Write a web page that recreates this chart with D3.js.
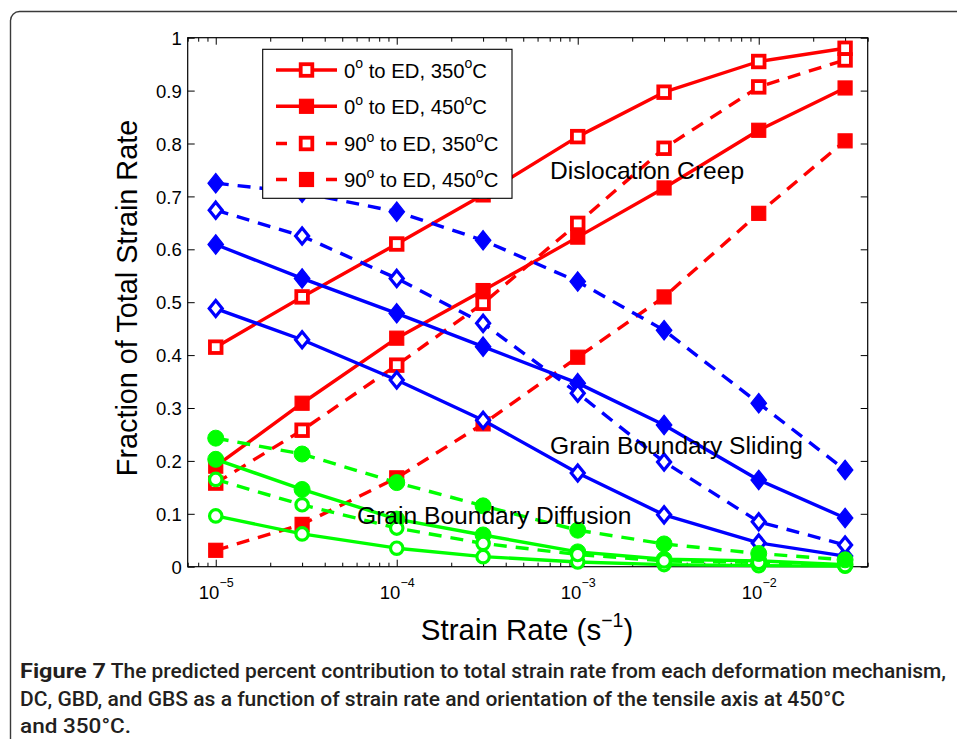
<!DOCTYPE html>
<html>
<head>
<meta charset="utf-8">
<script src="https://cdn.jsdelivr.net/npm/d3@7/dist/d3.min.js"></script>
<style>
  html, body { margin: 0; padding: 0; background: #fff; }
  svg { display: block; }
</style>
</head>
<body>
<svg id="chart" width="957" height="739"></svg>
<script>
// ---------------- DATA ----------------
const strainRates = [1e-5, 3e-5, 1e-4, 3e-4, 1e-3, 3e-3, 1e-2, 3e-2];

// Dislocation creep (red, squares)
const dc_0_350  = [0.415, 0.510, 0.610, 0.703, 0.813, 0.897, 0.955, 0.980];
const dc_0_450  = [0.190, 0.309, 0.432, 0.522, 0.623, 0.716, 0.825, 0.905];
const dc_90_350 = [0.158, 0.258, 0.381, 0.498, 0.649, 0.791, 0.907, 0.958];
const dc_90_450 = [0.031, 0.080, 0.168, 0.270, 0.396, 0.510, 0.668, 0.805];

// Grain boundary sliding (blue, diamonds)
const gbs_0_350  = [0.488, 0.429, 0.353, 0.277, 0.177, 0.098, 0.045, 0.020];
const gbs_0_450  = [0.609, 0.545, 0.479, 0.416, 0.347, 0.268, 0.164, 0.092];
const gbs_90_350 = [0.674, 0.625, 0.545, 0.460, 0.328, 0.198, 0.085, 0.041];
const gbs_90_450 = [0.725, 0.707, 0.671, 0.617, 0.539, 0.447, 0.309, 0.183];

// Grain boundary diffusion (green, circles)
const gbd_0_350  = [0.096, 0.062, 0.035, 0.019, 0.009, 0.004, 0.002, 0.001];
const gbd_0_450  = [0.203, 0.146, 0.090, 0.060, 0.028, 0.014, 0.011, 0.004];
const gbd_90_350 = [0.165, 0.117, 0.073, 0.044, 0.023, 0.011, 0.008, 0.002];
const gbd_90_450 = [0.243, 0.213, 0.159, 0.115, 0.069, 0.043, 0.025, 0.013];

const yTickValues = [0, 0.1, 0.2, 0.3, 0.4, 0.5, 0.6, 0.7, 0.8, 0.9, 1];
const xMajorTicks = [1e-5, 1e-4, 1e-3, 1e-2];
const xTickExponents = ["\u22125", "\u22124", "\u22123", "\u22122"];
const legendLabels = [
  ["0", " to ED, 350", "C"],
  ["0", " to ED, 450", "C"],
  ["90", " to ED, 350", "C"],
  ["90", " to ED, 450", "C"]
];
const annotationTexts = ["Dislocation Creep", "Grain Boundary Sliding", "Grain Boundary Diffusion"];
const captionBold = "Figure 7";
const captionLines = [
  " The predicted percent contribution to total strain rate from each deformation mechanism,",
  "DC, GBD, and GBS as a function of strain rate and orientation of the tensile axis at 450\u00B0C",
  "and 350\u00B0C."
];

// ---------------- STYLE TABLE ----------------
const RED = "#ff0000", BLUE = "#0000ff", GREEN = "#00ff00";
const series = [
  { v: dc_0_350,  c: RED,  dash: false, m: "square",  f: false },
  { v: dc_0_450,  c: RED,  dash: false, m: "square",  f: true  },
  { v: dc_90_350, c: RED,  dash: true,  m: "square",  f: false },
  { v: dc_90_450, c: RED,  dash: true,  m: "square",  f: true  },
  { v: gbs_0_350,  c: BLUE, dash: false, m: "diamond", f: false },
  { v: gbs_0_450,  c: BLUE, dash: false, m: "diamond", f: true  },
  { v: gbs_90_350, c: BLUE, dash: true,  m: "diamond", f: false },
  { v: gbs_90_450, c: BLUE, dash: true,  m: "diamond", f: true  },
  { v: gbd_0_350,  c: GREEN, dash: false, m: "circle", f: false },
  { v: gbd_0_450,  c: GREEN, dash: false, m: "circle", f: true  },
  { v: gbd_90_350, c: GREEN, dash: true,  m: "circle", f: false },
  { v: gbd_90_450, c: GREEN, dash: true,  m: "circle", f: true  }
];

// ---------------- LAYOUT ----------------
const svg = d3.select("#chart");
const FONT = "'Liberation Sans', Arial, Helvetica, sans-serif";
const L = 187.7, R = 867.7, T = 37.7, B = 566.7;

const x = d3.scaleLog().domain([7e-6, 4e-2]).range([L, R]);
const y = d3.scaleLinear().domain([0, 1]).range([B, T]);

// Outer rounded frame
svg.append("rect")
  .attr("x", 10.5).attr("y", 11.5).attr("width", 1000).attr("height", 1000)
  .attr("rx", 9).attr("fill", "none").attr("stroke", "#3a3a3a").attr("stroke-width", 1.4);

// Minor ticks for log axis
const minorTicks = [];
for (let e = -6; e <= -2; e++) {
  for (let k = 2; k <= 9; k++) {
    const v = k * Math.pow(10, e);
    if (v >= 7e-6 && v <= 4e-2) minorTicks.push(v);
  }
}

function styleAxis(g) {
  g.select(".domain").remove();
  g.selectAll("line").attr("stroke", "#000").attr("stroke-width", 1);
  g.selectAll("text").attr("font-family", FONT).attr("fill", "#000");
}

// Y axes
svg.append("g").attr("transform", `translate(${L},0)`)
  .call(d3.axisLeft(y).tickValues(yTickValues).tickSizeInner(-7).tickSizeOuter(0).tickPadding(6)
    .tickFormat(d => d === 0 ? "0" : d === 1 ? "1" : d3.format(".1f")(d)))
  .call(styleAxis)
  .call(g => g.selectAll("text").attr("font-size", 18.5).attr("dy", "0.36em"));

svg.append("g").attr("transform", `translate(${R},0)`)
  .call(d3.axisRight(y).tickValues(yTickValues).tickSizeInner(-7).tickSizeOuter(0).tickFormat(""))
  .call(styleAxis);

// X axes: major
svg.append("g").attr("transform", `translate(0,${B})`)
  .call(d3.axisBottom(x).tickValues(xMajorTicks).tickSizeInner(-7).tickSizeOuter(0).tickFormat(""))
  .call(styleAxis)
  .call(g => {
    g.selectAll(".tick text").each(function(d, i) {
      const t = d3.select(this);
      t.text(null).attr("y", 32.5).attr("dy", 0).attr("font-size", 18.5).attr("text-anchor", "middle");
      t.append("tspan").text("10");
      t.append("tspan").attr("font-size", 12.5).attr("dy", -12).text(xTickExponents[i]);
    });
  });
svg.append("g").attr("transform", `translate(0,${T})`)
  .call(d3.axisTop(x).tickValues(xMajorTicks).tickSizeInner(-7).tickSizeOuter(0).tickFormat(""))
  .call(styleAxis);
// X axes: minor
svg.append("g").attr("transform", `translate(0,${B})`)
  .call(d3.axisBottom(x).tickValues(minorTicks).tickSizeInner(-4).tickSizeOuter(0).tickFormat(""))
  .call(styleAxis);
svg.append("g").attr("transform", `translate(0,${T})`)
  .call(d3.axisTop(x).tickValues(minorTicks).tickSizeInner(-4).tickSizeOuter(0).tickFormat(""))
  .call(styleAxis);

// Box
svg.append("rect").attr("x", L).attr("y", T).attr("width", R - L).attr("height", B - T)
  .attr("fill", "none").attr("stroke", "#000").attr("stroke-width", 1.2);

// ---------------- MARKERS ----------------
function drawMarker(g, m, filled, c) {
  if (m === "square") {
    if (filled) {
      g.append("rect").attr("x", -7).attr("y", -7).attr("width", 14).attr("height", 14)
        .attr("fill", c).attr("stroke", c).attr("stroke-width", 1.2);
    } else {
      g.append("rect").attr("x", -5.8).attr("y", -5.8).attr("width", 11.6).attr("height", 11.6)
        .attr("fill", "#fff").attr("stroke", c).attr("stroke-width", 3.8);
    }
  } else if (m === "diamond") {
    if (filled) {
      g.append("path").attr("d", "M0,-9.8 L7.8,0 L0,9.8 L-7.8,0 Z")
        .attr("fill", c).attr("stroke", c).attr("stroke-width", 1.2);
    } else {
      g.append("path").attr("d", "M0,-8 L6.5,0 L0,8 L-6.5,0 Z")
        .attr("fill", "#fff").attr("stroke", c).attr("stroke-width", 3.2);
    }
  } else {
    if (filled) {
      g.append("circle").attr("r", 8).attr("fill", c).attr("stroke", c).attr("stroke-width", 1);
    } else {
      g.append("circle").attr("r", 6.2).attr("fill", "#fff").attr("stroke", c).attr("stroke-width", 3.2);
    }
  }
}

const line = d3.line().x((d, i) => x(strainRates[i])).y(d => y(d));
const plot = svg.append("g");
series.forEach(s => {
  const g = plot.append("g");
  g.append("path").attr("d", line(s.v)).attr("fill", "none").attr("stroke", s.c)
    .attr("stroke-width", 3.4).attr("stroke-linejoin", "round")
    .attr("stroke-dasharray", s.dash ? "13,9" : null);
  s.v.forEach((v, i) => {
    const mg = g.append("g").attr("transform", `translate(${x(strainRates[i])},${y(v)})`);
    drawMarker(mg, s.m, s.f, s.c);
  });
});

// ---------------- ANNOTATIONS ----------------
const annPos = [[550, 179], [550, 453.5], [357, 524]];
annotationTexts.forEach((a, i) => {
  svg.append("text").attr("x", annPos[i][0]).attr("y", annPos[i][1])
    .attr("font-family", FONT).attr("font-size", 24.6).attr("fill", "#000").text(a);
});

// ---------------- LEGEND ----------------
const lg = svg.append("g");
lg.append("rect").attr("x", 262.7).attr("y", 49.3).attr("width", 249.3).attr("height", 149)
  .attr("fill", "#fff").attr("stroke", "#000").attr("stroke-width", 1.1);
const rowY = [70, 106.3, 143.5, 179.5];
series.slice(0, 4).forEach((s, i) => {
  const ry = rowY[i];
  lg.append("line").attr("x1", 276).attr("x2", 337).attr("y1", ry).attr("y2", ry)
    .attr("stroke", s.c).attr("stroke-width", 3.4)
    .attr("stroke-dasharray", s.dash ? "11,39" : null);
  const mg = lg.append("g").attr("transform", `translate(306.5,${ry})`);
  drawMarker(mg, s.m, s.f, s.c);
  const t = lg.append("text").attr("x", 344).attr("y", ry + 7.8)
    .attr("font-family", FONT).attr("font-size", 20.3).attr("fill", "#000");
  const lab = legendLabels[i];
  t.append("tspan").text(lab[0]);
  t.append("tspan").attr("font-size", 14).attr("dy", -9.5).text("o");
  t.append("tspan").attr("dy", 9.5).text(lab[1]);
  t.append("tspan").attr("font-size", 14).attr("dy", -9.5).text("o");
  t.append("tspan").attr("dy", 9.5).text(lab[2]);
});

// ---------------- AXIS LABELS ----------------
svg.append("text")
  .attr("transform", `translate(137,298) rotate(-90)`)
  .attr("text-anchor", "middle").attr("font-family", FONT).attr("font-size", 28.8).attr("fill", "#000")
  .text("Fraction of Total Strain Rate");

const xl = svg.append("text").attr("x", 527).attr("y", 640).attr("text-anchor", "middle")
  .attr("font-family", FONT).attr("font-size", 29.5).attr("fill", "#000");
xl.append("tspan").text("Strain Rate (s");
xl.append("tspan").attr("font-size", 19.5).attr("dy", -13).text("\u22121");
xl.append("tspan").attr("dy", 13).text(")");

// ---------------- CAPTION ----------------
const CAPFONT = "Roboto, 'Liberation Sans', sans-serif";
svg.append("text").attr("x", 20).attr("y", 678).attr("font-family", CAPFONT).attr("font-weight", "bold")
  .attr("font-size", 19.5).attr("fill", "#231f20").attr("textLength", 86).attr("lengthAdjust", "spacingAndGlyphs")
  .text(captionBold);
const capX = [106, 20, 20];
const capY = [678, 706, 733];
const capLen = [840, 825, 111];
captionLines.forEach((s, i) => {
  svg.append("text").attr("x", capX[i]).attr("y", capY[i]).attr("font-family", CAPFONT)
    .attr("font-weight", 500).attr("font-size", 19.5).attr("fill", "#231f20")
    .attr("textLength", capLen[i]).attr("lengthAdjust", "spacingAndGlyphs")
    .attr("xml:space", "preserve").style("white-space", "pre")
    .text(s);
});
</script>
</body>
</html>
